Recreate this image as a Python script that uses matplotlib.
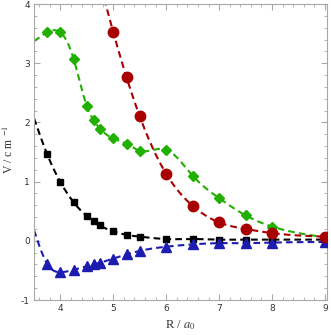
import numpy as np
import matplotlib
matplotlib.use("Agg")
import matplotlib.pyplot as plt
from matplotlib.ticker import MultipleLocator

# marker data (R in a0, V in cm^-1)
r_black = [3.75, 4.0, 4.25, 4.5, 4.625, 4.75, 5.0, 5.25, 5.5, 6.0, 6.5, 7.0, 7.5, 8.0, 9.0]
v_black = [1.46, 0.99, 0.65, 0.42, 0.34, 0.26, 0.16, 0.10, 0.07, 0.03, 0.03, 0.02, 0.02, 0.02, 0.02]

r_blue = [3.75, 4.0, 4.25, 4.5, 4.625, 4.75, 5.0, 5.25, 5.5, 6.0, 6.5, 7.0, 7.5, 8.0, 9.0]
v_blue = [-0.39, -0.53, -0.49, -0.43, -0.40, -0.37, -0.30, -0.23, -0.17, -0.10, -0.06, -0.04, -0.04, -0.03, -0.02]

r_red = [5.0, 5.25, 5.5, 6.0, 6.5, 7.0, 7.5, 8.0, 9.0]
v_red = [3.52, 2.76, 2.10, 1.13, 0.59, 0.31, 0.20, 0.13, 0.07]

r_green = [3.75, 4.0, 4.25, 4.5, 4.625, 4.75, 5.0, 5.25, 5.5, 6.0, 6.5, 7.0, 7.5, 8.0, 9.0]
v_green = [3.52, 3.52, 3.07, 2.27, 2.04, 1.89, 1.73, 1.64, 1.52, 1.54, 1.10, 0.72, 0.43, 0.24, 0.06]

# where the fitted curves start (left of the first marker)
curve_start = {"black": (3.5, 2.07), "blue": (3.5, 0.18), "red": (4.75, 4.35), "green": (3.5, 3.37)}


def spline(x, y, n=400):
    # natural cubic spline, plain numpy
    x = np.asarray(x, float)
    y = np.asarray(y, float)
    h = np.diff(x)
    m = len(x)
    A = np.zeros((m, m))
    b = np.zeros(m)
    A[0, 0] = A[-1, -1] = 1
    for i in range(1, m - 1):
        A[i, i - 1] = h[i - 1]
        A[i, i] = 2 * (h[i - 1] + h[i])
        A[i, i + 1] = h[i]
        b[i] = 6 * ((y[i + 1] - y[i]) / h[i] - (y[i] - y[i - 1]) / h[i - 1])
    M = np.linalg.solve(A, b)
    xs = np.linspace(x[0], x[-1], n)
    k = np.clip(np.searchsorted(x, xs) - 1, 0, m - 2)
    t0 = x[k + 1] - xs
    t1 = xs - x[k]
    hk = h[k]
    ys = (M[k] * t0**3 + M[k + 1] * t1**3) / (6 * hk) \
        + (y[k] / hk - M[k] * hk / 6) * t0 + (y[k + 1] / hk - M[k + 1] * hk / 6) * t1
    return xs, ys


plt.rcParams["font.family"] = ["DejaVu Sans"]
plt.rcParams["mathtext.fontset"] = "stix"
plt.rcParams["axes.unicode_minus"] = False

fig = plt.figure(figsize=(3.31, 3.35), dpi=100)
ax = fig.add_axes([34 / 331, 35 / 335, 292.5 / 331, 296 / 335])

series = [
    ("black", r_black, v_black, "#000000", "s", 5.0),
    ("blue", r_blue, v_blue, "#1c1cb0", "^", 6.5),
    ("green", r_green, v_green, "#22b000", "D", 5.5),
    ("red", r_red, v_red, "#a80000", "o", 7.5),
]

for name, rx, vy, col, mk, ms in series:
    x0, y0 = curve_start[name]
    xs, ys = spline([x0] + rx, [y0] + vy)
    ax.plot(xs, ys, ls=(0, (3.2, 2.0)), color=col, lw=1.5, zorder=2)
    ax.plot(rx, vy, ls="none", marker=mk, ms=ms, color=col, mec=col, zorder=3)

ax.set_xlim(3.5, 9.03)
ax.set_ylim(-1, 4)
ax.xaxis.set_major_locator(MultipleLocator(1))
ax.xaxis.set_minor_locator(MultipleLocator(0.2))
ax.yaxis.set_major_locator(MultipleLocator(1))
ax.yaxis.set_minor_locator(MultipleLocator(0.2))

frame = "#a8a8a8"
for sp in ax.spines.values():
    sp.set_color(frame)
    sp.set_linewidth(0.8)
ax.tick_params(which="both", direction="in", top=True, right=True,
               color=frame, labelsize=6.5, labelcolor="#333333", pad=3)
ax.tick_params(which="major", length=4, width=0.8)
ax.tick_params(which="minor", length=2, width=0.6)

ax.set_xlabel("R / $a_0$", family="Liberation Serif", fontsize=9, color="#333333")
ax.set_ylabel("V / c m $^{-1}$", family="Liberation Serif", fontsize=8.5, color="#333333")
ax.xaxis.set_label_coords(0.5, -0.06)
ax.yaxis.set_label_coords(-0.062, 0.51)

fig.savefig("out.png", dpi=100)
